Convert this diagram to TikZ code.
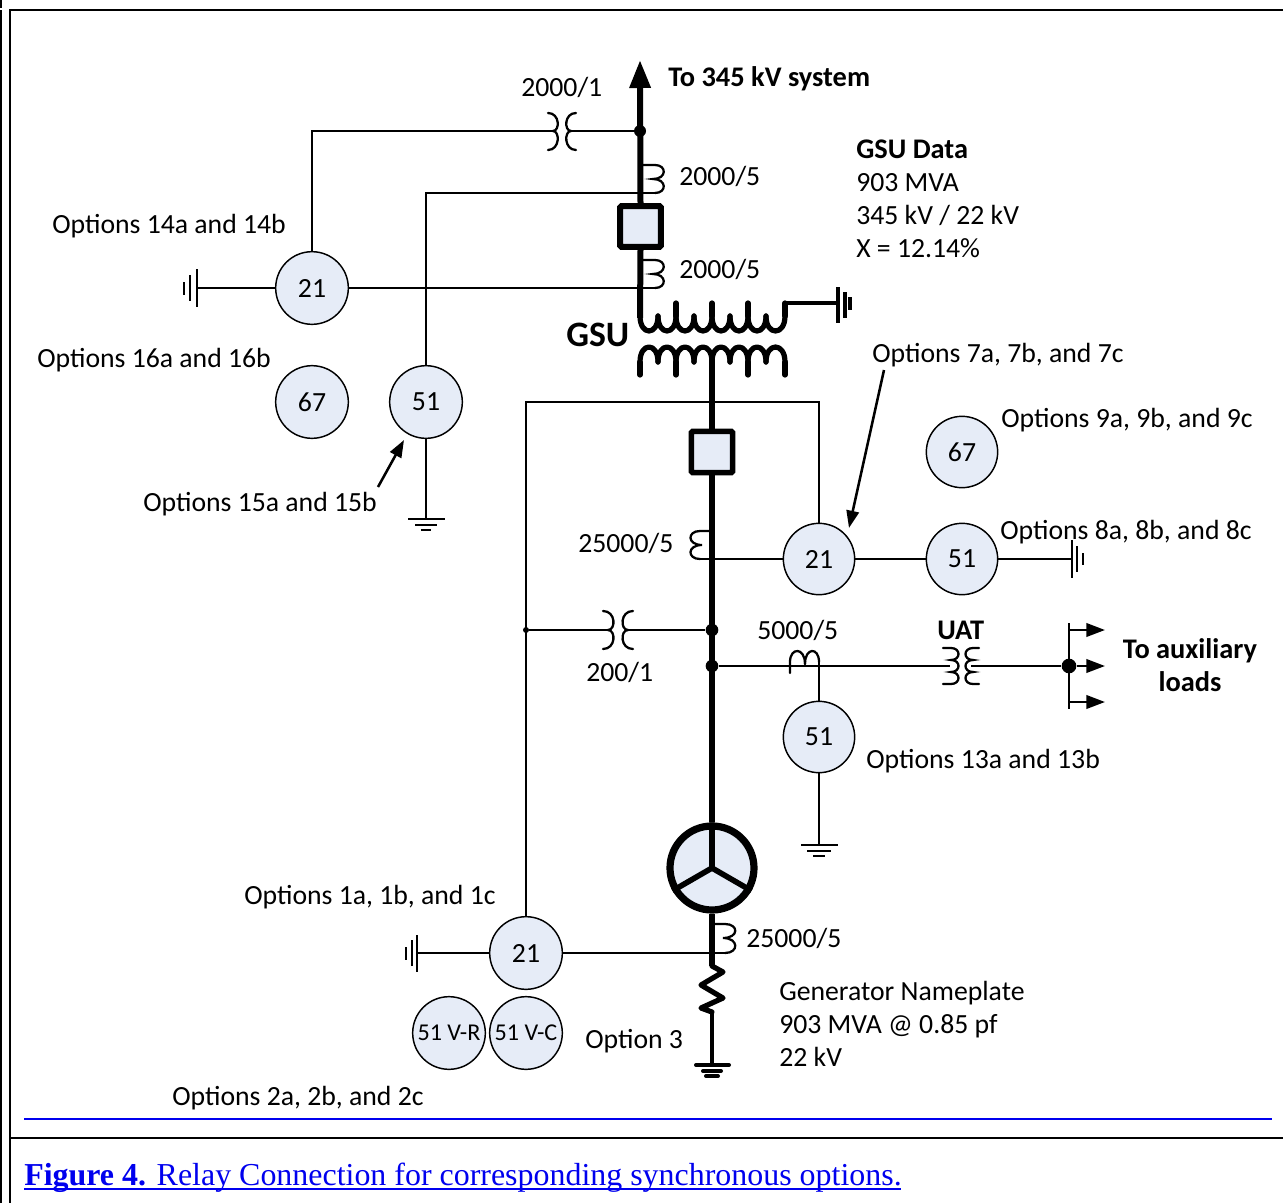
\documentclass[tikz,border=0pt]{standalone}
\usepackage{fontspec}
\setmainfont{Carlito}
\newfontfamily\capfont{Liberation Serif}
\usetikzlibrary{arrows.meta}
\definecolor{relayfill}{HTML}{E6ECF7}
\definecolor{linkblue}{HTML}{0000EE}
\newcommand{\rfont}{\fontsize{20.8pt}{24pt}\selectfont}
\tikzset{
  x=0.75pt,y=-0.75pt,
  wire/.style={line width=1.9pt},
  coil/.style={line width=1.7pt,line cap=round},
  bus/.style={line width=4.5pt},
  winding/.style={line width=3.9pt,line cap=round,line join=round},
  relay/.style={circle,draw,fill=relayfill,line width=1.1pt,minimum size=54.5pt,inner sep=0pt,font=\rfont},
  relays/.style={relay,minimum size=53.5pt},
  breaker/.style={rectangle,draw,fill=relayfill,rounded corners=1pt,inner sep=0pt},
  dotn/.style={circle,fill=black,inner sep=0pt,minimum size=9pt},
  txt/.style={anchor=base west,inner sep=0pt,font=\rfont},
  btxt/.style={txt,font=\fontsize{21.3pt}{24pt}\selectfont\bfseries},
  frame/.style={line width=2.2pt},
  tip/.style={-{Triangle[length=#1,width=0.72*#1]}},
}
\begin{document}
\begin{tikzpicture}
\useasboundingbox (0,0) rectangle (1283,1203);
% frame
\coordinate (fa) at (10,10); \coordinate (fb) at (1283,10); \coordinate (fc) at (10,1203);
\coordinate (fd) at (1,0); \coordinate (fe) at (1,8); \coordinate (ff) at (1,10); \coordinate (fg) at (1,1203);
\coordinate (fh) at (10,1138); \coordinate (fi) at (1283,1138);
\coordinate (bl) at (24,1119); \coordinate (br) at (1272,1119);
\draw[frame] (fb) -- (fa) -- (fc);
\draw[frame] (fd) -- (fe); \draw[frame] (ff) -- (fg);
\draw[frame] (fh) -- (fi);
\draw[linkblue,line width=1.6pt] (bl) -- (br);
% relays and equipment
\node[relay] (r21a) at (312,288) {21};
\node[relay] (r67a) at (312,402) {67};
\node[relay] (r51a) at (426,402) {51};
\node[relays] (r67b) at (962,452) {67};
\node[relays] (r21b) at (819,559) {21};
\node[relays] (r51b) at (962,559) {51};
\node[relays] (r51c) at (819,737) {51};
\node[relay] (r21c) at (526,953) {21};
\node[relay,font=\fontsize{18.1pt}{22pt}\selectfont] (r51r) at (449,1033) {51 V-R};
\node[relay,font=\fontsize{18.1pt}{22pt}\selectfont] (r51v) at (526,1033) {51 V-C};
\node[breaker,line width=4.6pt,minimum size=30.5pt] (cb1) at (640.5,226.5) {};
\node[breaker,line width=4.2pt,minimum size=31pt] (cb2) at (712,452) {};
\node[circle,draw,fill=relayfill,line width=5.4pt,minimum size=63pt,inner sep=0pt] (gen) at (712,868) {};
\node[dotn] (d1) at (640,131) {};
\node[dotn,minimum size=9.5pt] (d2) at (712,630) {};
\node[dotn,minimum size=9.5pt] (d3) at (712,666) {};
\node[dotn,minimum size=11pt] (d4) at (1069,666) {};
\node[dotn,minimum size=4.5pt] (d5) at (526,630) {};
% HV bus
\coordinate (top) at (640,60);
\coordinate (pri) at (640,318);
\draw[bus,tip=21pt] (cb1.north) -- (top);
\draw[bus] (cb1.south) -- (pri);
% GSU windings
\foreach \a/\b in {640/658,658/676,676/694,694/712,712/730,730/748,748/766,766/785}
  \draw[winding] (\a,316) .. controls (\a,336) and (\b,336) .. (\b,316);
\foreach \a in {676,712,748,785} \draw[winding] (\a,303) -- (\a,316);
\foreach \a/\b in {640/658,658/676,676/694,694/712,712/730,730/748,748/766,766/785}
  \draw[winding] (\a,362) .. controls (\a,342) and (\b,342) .. (\b,362);
\foreach \a in {640,676,748,785} \draw[winding] (\a,362) -- (\a,375);
% LV bus
\coordinate (sec) at (712,358);
\draw[bus] (sec) -- (cb2.north);
\draw[bus] (cb2.south) -- (gen.north);
\draw[line width=4.2pt] (gen.north) -- (gen.center) -- (gen.210);
\draw[line width=4.2pt] (gen.center) -- (gen.330);
\coordinate (rtop) at (712,966);
\coordinate (rbot) at (712,1012);
\coordinate (gnd) at (712,1065);
\draw[bus] (gen.south) -- (rtop);
\draw[winding] (rtop) -- (723,972) -- (701,985) -- (723,998) -- (701,1008) -- (rbot);
\draw[line width=3.4pt] (rbot) -- (gnd);
\draw[line width=3pt,line cap=round] (696,1065) -- (729,1065);
\draw[line width=3pt,line cap=round] (703,1071) -- (721,1071);
\draw[line width=3pt,line cap=round] (706,1076) -- (718,1076);
% GSU neutral
\coordinate (gsun) at (785,303);
\coordinate (gn1) at (838,303);
\draw[line width=2.4pt] (gsun) -- (gn1);
\draw[line width=2.6pt] (838,287) -- (838,323);
\draw[line width=2.6pt] (845,292) -- (845,318);
\draw[line width=3.4pt] (850,297) -- (850,310);
% CT 2000/1
\coordinate (c1l) at (553,131);
\coordinate (c1r) at (571,131);
\coordinate (c1c) at (312,131);
\draw[coil] (548,113) .. controls (560,113) and (560,131) .. (c1l) .. controls (560,131) and (560,150) .. (548,150);
\draw[coil] (576,113) .. controls (564,113) and (564,131) .. (c1r) .. controls (564,131) and (564,150) .. (576,150);
\draw[wire] (r21a.north) -- (c1c) -- (c1l);
\draw[wire] (c1r) -- (d1);
% CT 2000/5 upper
\coordinate (c2) at (655,193);
\coordinate (c2c) at (426,193);
\draw[coil] (643,165) -- (655,165) .. controls (667,165) and (667,179) .. (653,179) .. controls (667,179) and (667,193) .. (c2);
\draw[wire] (r51a.north) -- (c2c) -- (c2);
% CT 2000/5 lower
\coordinate (c3) at (655,288);
\draw[coil] (643,260) -- (655,260) .. controls (667,260) and (667,274) .. (653,274) .. controls (667,274) and (667,288) .. (c3);
\draw[wire] (r21a.east) -- (c3);
% left ground of r21a
\coordinate (g1) at (197,288);
\draw[wire] (r21a.west) -- (g1);
\draw[wire] (197,269) -- (197,307);
\draw[wire] (190,275) -- (190,301);
\draw[wire] (184,282) -- (184,295);
% ground of r51a
\coordinate (g2) at (426,519);
\draw[wire] (r51a.south) -- (g2);
\draw[wire] (408,519) -- (445,519);
\draw[wire] (415,525) -- (437,525);
\draw[wire] (421,530) -- (431,530);
% 21c / LV loop
\coordinate (l1) at (526,402);
\coordinate (l2) at (819,402);
\draw[wire] (r21c.north) -- (l1) -- (l2) -- (r21b.north);
% CT 25000/5 upper
\coordinate (c4) at (700,559);
\draw[coil] (709,531) -- (700,531) .. controls (687,531) and (687,545) .. (702,545) .. controls (687,545) and (687,559) .. (c4);
\draw[wire] (r21b.west) -- (c4);
\draw[wire] (r21b.east) -- (r51b.west);
\coordinate (g3) at (1072,559);
\draw[wire] (r51b.east) -- (g3);
\draw[wire] (1072,540) -- (1072,578);
\draw[wire] (1077,546) -- (1077,572);
\draw[wire] (1083,553) -- (1083,565);
% CT 200/1
\coordinate (c5l) at (608,630);
\coordinate (c5r) at (628,630);
\draw[coil] (603,611) .. controls (616,611) and (616,630) .. (c5l) .. controls (616,630) and (616,649) .. (603,649);
\draw[coil] (633,611) .. controls (620,611) and (620,630) .. (c5r) .. controls (620,630) and (620,649) .. (633,649);
\draw[wire] (d5) -- (c5l);
\draw[wire] (c5r) -- (d2);
% CT 5000/5 and UAT
\coordinate (u1) at (950,666);
\coordinate (u2) at (971,666);
\coordinate (c6) at (819,662);
\draw[wire] (d3) -- (u1);
\draw[wire] (u2) -- (d4);
\draw[coil] (790,673) -- (790,662) .. controls (790,647) and (805,647) .. (805,664);
\draw[coil] (805,664) .. controls (805,647) and (819,647) .. (c6);
\draw[wire] (c6) -- (r51c.north);
\draw[coil] (943,648) -- (951,648) .. controls (961,648) and (961,660) .. (951,660) .. controls (961,660) and (961,672) .. (951,672) .. controls (961,672) and (961,684) .. (951,684) -- (943,684);
\draw[coil] (979,648) -- (973,648) .. controls (963,648) and (963,660) .. (973,660) .. controls (963,660) and (963,672) .. (973,672) .. controls (963,672) and (963,684) .. (973,684) -- (979,684);
% auxiliary load arrows
\coordinate (a1) at (1069,623); \coordinate (a2) at (1069,709);
\coordinate (t1) at (1105,630); \coordinate (t2) at (1105,666); \coordinate (t3) at (1105,702);
\draw[wire] (a1) -- (a2);
\draw[wire,tip=14pt] (1069,630) -- (t1);
\draw[wire,tip=14pt] (d4) -- (t2);
\draw[wire,tip=14pt] (1069,702) -- (t3);
% ground of r51c
\coordinate (g4) at (819,845);
\draw[wire] (r51c.south) -- (g4);
\draw[wire] (801,845) -- (838,845);
\draw[wire] (807,851) -- (831,851);
\draw[wire] (813,856) -- (825,856);
% CT 25000/5 lower
\coordinate (c7) at (725,953);
\draw[coil] (715,924) -- (725,924) .. controls (739,924) and (739,938) .. (723,938) .. controls (739,938) and (739,953) .. (c7);
\draw[wire] (r21c.east) -- (c7);
% ground of r21c
\coordinate (g5) at (417,953);
\draw[wire] (r21c.west) -- (g5);
\draw[wire] (417,935) -- (417,972);
\draw[wire] (412,940) -- (412,966);
\draw[wire] (406,947) -- (406,960);
% pointer arrows
\coordinate (p1) at (378,487);
\coordinate (p1e) at (404,440);
\coordinate (p2) at (884,370);
\coordinate (p2e) at (849,528);
\draw[wire,tip=13pt] (p1) -- (p1e);
\draw[wire,tip=13pt] (p2) -- (p2e);
% labels
\node[btxt] (t01) at (668,86) {To 345 kV system};
\node[txt] (t02) at (521,96) {2000/1};
\node[txt] (t03) at (679,185) {2000/5};
\node[txt] (t04) at (679,278) {2000/5};
\node[btxt] (t05) at (856,158) {GSU Data};
\node[txt] (t06) at (856,191) {903 MVA};
\node[txt] (t07) at (856,224) {345 kV / 22 kV};
\node[txt] (t08) at (856,257) {X = 12.14\%};
\node[txt] (t09) at (52,233) {Options 14a and 14b};
\node[txt] (t10) at (37,367) {Options 16a and 16b};
\node[btxt,font=\fontsize{26.8pt}{30pt}\selectfont\bfseries] (t11) at (566,346) {GSU};
\node[txt] (t12) at (872,362) {Options 7a, 7b, and 7c};
\node[txt] (t13) at (1001,427) {Options 9a, 9b, and 9c};
\node[txt] (t14) at (143,511) {Options 15a and 15b};
\node[txt] (t15) at (578,552) {25000/5};
\node[txt] (t16) at (1000,539) {Options 8a, 8b, and 8c};
\node[txt] (t17) at (757,639) {5000/5};
\node[btxt] (t18) at (937,639) {UAT};
\node[txt] (t19) at (586,681) {200/1};
\node[btxt,anchor=base] (t20) at (1190,658) {To auxiliary};
\node[btxt,anchor=base] (t21) at (1190,691) {loads};
\node[txt] (t22) at (866,768) {Options 13a and 13b};
\node[txt] (t23) at (244,904) {Options 1a, 1b, and 1c};
\node[txt] (t24) at (746,947) {25000/5};
\node[txt] (t25) at (779,1000) {Generator Nameplate};
\node[txt] (t26) at (779,1033) {903 MVA @ 0.85 pf};
\node[txt] (t27) at (779,1066) {22 kV};
\node[txt] (t28) at (585,1048) {Option 3};
\node[txt] (t29) at (172,1105) {Options 2a, 2b, and 2c};
\node[anchor=base west,inner sep=0pt,text=linkblue,font=\capfont\fontsize{23.95pt}{28pt}\selectfont] (cap) at (24,1185) {\textbf{Figure 4.} Relay Connection for corresponding synchronous options.};
\coordinate (ul) at (24,1189); \coordinate (ur) at (901,1189);
\draw[linkblue,line width=1.5pt] (ul) -- (ur);
\end{tikzpicture}
\end{document}
